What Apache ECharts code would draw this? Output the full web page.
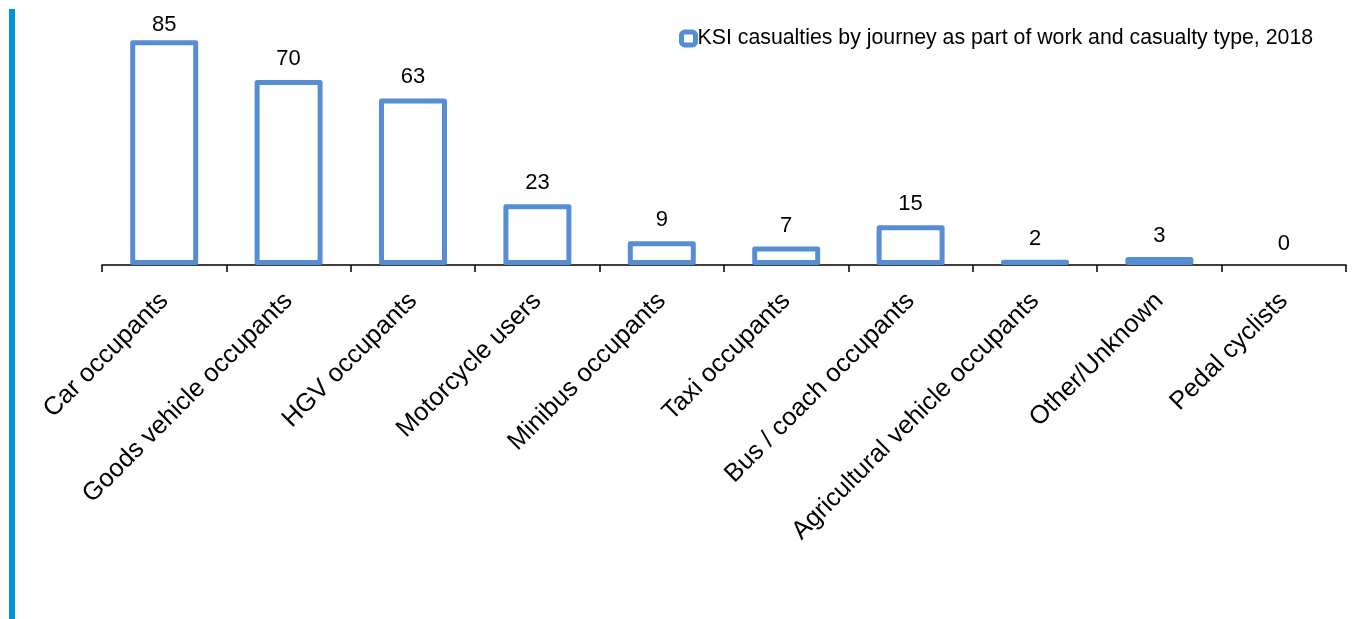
<!DOCTYPE html>
<html>
<head>
<meta charset="utf-8">
<style>
  html, body { margin: 0; padding: 0; background: #ffffff; }
  #chart { width: 1354px; height: 619px; }
</style>
<script src="https://cdn.jsdelivr.net/npm/echarts@6/dist/echarts.min.js"></script>
</head>
<body>
<div id="chart"></div>
<script>
// Killed or seriously injured casualties on work journeys, by casualty type (2018)
const categories = [
  'Car occupants',
  'Goods vehicle occupants',
  'HGV occupants',
  'Motorcycle users',
  'Minibus occupants',
  'Taxi occupants',
  'Bus / coach occupants',
  'Agricultural vehicle occupants',
  'Other/Unknown',
  'Pedal cyclists'
];
const casualties = [85, 70, 63, 23, 9, 7, 15, 2, 3, 0];
const seriesName = 'KSI casualties by journey as part of work and casualty type, 2018';

const FONT = "'Liberation Sans', Arial, Helvetica, sans-serif";
const BAR_BLUE = '#558ED5';
const Y_MAX = 90;

const chart = echarts.init(document.getElementById('chart'), null, { renderer: 'canvas' });

// Build bar items: an empty bar keeps only its value label, and the tallest
// bar's label sits a little closer so it stays inside the panel.
const barItems = casualties.map(v => {
  if (v === 0) {
    return { value: v, itemStyle: { borderWidth: 0, color: 'rgba(0,0,0,0)' } };
  }
  if (v === Math.max(...casualties)) {
    return { value: v, label: { distance: 4 } };
  }
  return v;
});

chart.setOption({
  backgroundColor: '#ffffff',
  animation: false,
  textStyle: { fontFamily: FONT, color: '#000000' },
  graphic: [{
    // accent rule down the left edge of the panel
    type: 'rect',
    shape: { x: 9, y: 9, width: 6, height: 610 },
    style: { fill: '#0096D6' },
    silent: true
  }],
  legend: {
    show: true,
    left: 674,
    top: 23,
    itemWidth: 14,
    itemHeight: 13,
    itemStyle: { borderWidth: 5, borderColor: BAR_BLUE, color: '#ffffff' },
    textStyle: { fontFamily: FONT, fontSize: 21.3, color: '#000000', padding: [0, 0, 0, -3] },
    data: [seriesName]
  },
  grid: {
    left: 102,
    right: 8,
    top: 27,
    bottom: 354,
    containLabel: false
  },
  xAxis: {
    type: 'category',
    data: categories,
    boundaryGap: true,
    axisLine: { show: true, lineStyle: { color: '#000000', width: 1.5 } },
    axisTick: { show: true, length: 7, lineStyle: { color: '#000000', width: 1.5 } },
    axisLabel: {
      interval: 0,
      rotate: 45,
      margin: 32,
      fontFamily: FONT,
      fontSize: 25.5,
      color: '#000000'
    }
  },
  yAxis: {
    type: 'value',
    min: 0,
    max: Y_MAX,
    show: false,
    splitLine: { show: false }
  },
  series: [{
    name: seriesName,
    type: 'bar',
    barWidth: 68,
    data: barItems,
    itemStyle: {
      color: '#ffffff',
      borderColor: BAR_BLUE,
      borderWidth: 5,
      borderJoin: 'round'
    },
    label: {
      show: true,
      position: 'top',
      distance: 10,
      fontFamily: FONT,
      fontSize: 22,
      color: '#000000'
    }
  }]
});
</script>
</body>
</html>
